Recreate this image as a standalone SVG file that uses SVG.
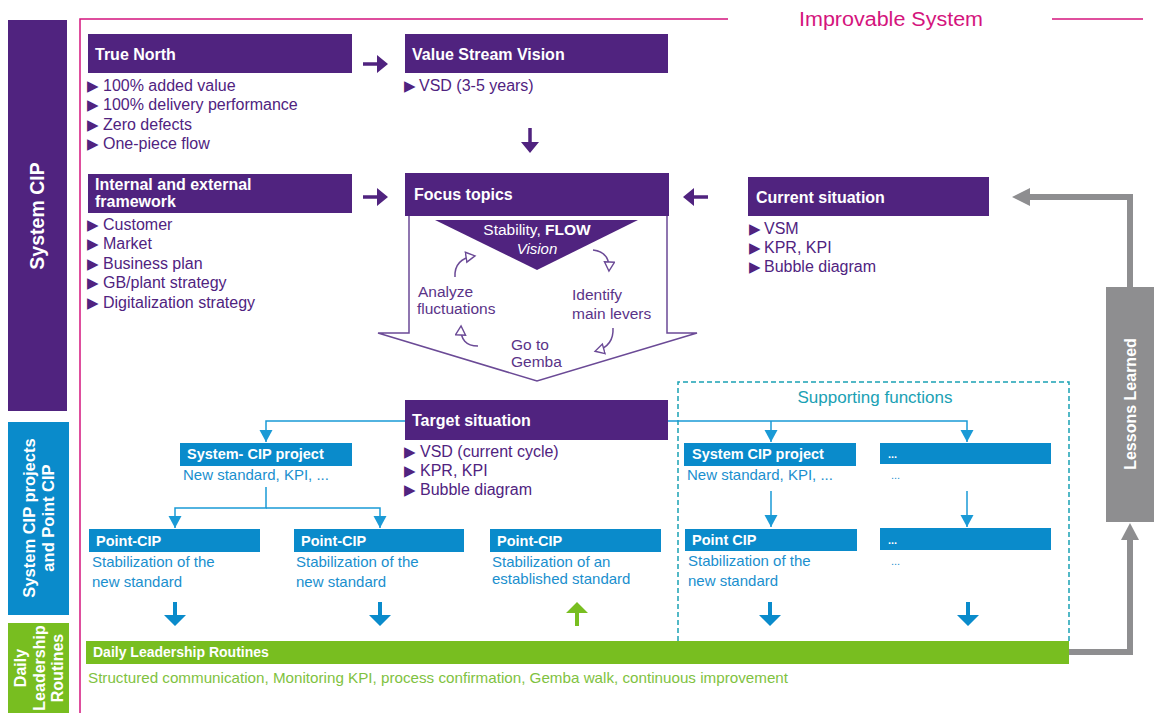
<svg xmlns="http://www.w3.org/2000/svg" xmlns:xlink="http://www.w3.org/1999/xlink" width="1158" height="713" viewBox="0 0 1158 713">
  <style>
    text { font-family: "Liberation Sans", Arial, sans-serif; }
    .pbox { fill: #50237f; }
    .bbox { fill: #0a8bcb; }
    .gbar { fill: #78be20; }
    .ttl { fill: #ffffff; font-weight: bold; font-size: 16px; }
    .ttlS { fill: #ffffff; font-weight: bold; font-size: 14.5px; }
    .ptxt { fill: #50237f; font-size: 16px; }
    .btxt { fill: #1a8fce; font-size: 15px; }
    .cyc { fill: #5a3388; font-size: 15.5px; }
    .bul { font-family: "DejaVu Sans", sans-serif; font-size: 15px; }
    .side { fill: #ffffff; font-weight: bold; text-anchor: middle; }
    .thin { fill: none; stroke: #1a9ad6; stroke-width: 1.5; }
    .cycArr { fill: none; stroke: #6b4a96; stroke-width: 1.5; }
    .gray { fill: none; stroke: #8e8e90; stroke-width: 6; }
  </style>
  <defs>
    <marker id="blueHead" markerWidth="14" markerHeight="14" refX="12" refY="6.5" orient="auto" markerUnits="userSpaceOnUse">
      <path d="M0,0 L12,6.5 L0,13 z" fill="#1a9ad6"/>
    </marker>
    <marker id="openHead" markerWidth="14" markerHeight="14" refX="9" refY="6" orient="auto" markerUnits="userSpaceOnUse">
      <path d="M1,1 L10,6 L1,11 z" fill="#ffffff" stroke="#6b4a96" stroke-width="1.4"/>
    </marker>
    <!-- block arrows, drawn pointing down from the origin -->
    <path id="arrowP" d="M-1.75,0 H1.75 V14 H9 L0,25 L-9,14 H-1.75 Z"/>
    <path id="arrowB" d="M-2,0 H2 V13 H11 L0,24 L-11,13 H-2 Z"/>
  </defs>

  <rect width="1158" height="713" fill="#ffffff"/>

  <!-- side bands -->
  <g id="band-system-cip">
    <rect x="8" y="20" width="59" height="391" class="pbox"/>
    <text class="side" font-size="19.5" transform="translate(44,216) rotate(-90)">System CIP</text>
  </g>
  <g id="band-projects">
    <rect x="8" y="422" width="61" height="193" class="bbox"/>
    <text class="side" font-size="16.5" transform="translate(35,518) rotate(-90)">System CIP projects</text>
    <text class="side" font-size="16.5" transform="translate(54,518) rotate(-90)">and Point CIP</text>
  </g>
  <g id="band-daily">
    <rect x="8" y="623" width="61" height="90" class="gbar"/>
    <text class="side" font-size="16" transform="translate(26,668) rotate(-90)">Daily</text>
    <text class="side" font-size="16" transform="translate(44.5,668) rotate(-90)">Leadership</text>
    <text class="side" font-size="16" transform="translate(63,668) rotate(-90)">Routines</text>
  </g>

  <!-- improvable system frame -->
  <g id="frame">
    <path d="M80,713 V19 H728" fill="none" stroke="#d4147d" stroke-width="1.5"/>
    <path d="M1052,19 H1143" fill="none" stroke="#d4147d" stroke-width="1.5"/>
    <text x="891" y="26" text-anchor="middle" font-size="20" fill="#d4147d" textLength="184" lengthAdjust="spacingAndGlyphs">Improvable System</text>
  </g>

  <!-- supporting functions area -->
  <g id="supporting-functions">
    <path d="M678,641 V382 H1069 V641" fill="none" stroke="#1aa1b4" stroke-width="1.5" stroke-dasharray="5 3"/>
    <text x="875" y="403" text-anchor="middle" font-size="17" fill="#1aa1b4">Supporting functions</text>
  </g>

  <g id="true-north">
    <rect x="88" y="34" width="264" height="39" class="pbox"/>
    <text x="95" y="60" class="ttl">True North</text>
    <text class="ptxt"><tspan x="87" y="91" class="bul">▶</tspan><tspan x="103" y="91">100% added value</tspan></text>
    <text class="ptxt"><tspan x="87" y="110" class="bul">▶</tspan><tspan x="103" y="110">100% delivery performance</tspan></text>
    <text class="ptxt"><tspan x="87" y="130" class="bul">▶</tspan><tspan x="103" y="130">Zero defects</tspan></text>
    <text class="ptxt"><tspan x="87" y="149" class="bul">▶</tspan><tspan x="103" y="149">One-piece flow</tspan></text>
  </g>

  <g id="framework">
    <rect x="88" y="174" width="264" height="39" class="pbox"/>
    <text x="95" y="190" class="ttl">Internal and external</text>
    <text x="95" y="207" class="ttl">framework</text>
    <text class="ptxt"><tspan x="87" y="230" class="bul">▶</tspan><tspan x="103" y="230">Customer</tspan></text>
    <text class="ptxt"><tspan x="87" y="249" class="bul">▶</tspan><tspan x="103" y="249">Market</tspan></text>
    <text class="ptxt"><tspan x="87" y="269" class="bul">▶</tspan><tspan x="103" y="269">Business plan</tspan></text>
    <text class="ptxt"><tspan x="87" y="288" class="bul">▶</tspan><tspan x="103" y="288">GB/plant strategy</tspan></text>
    <text class="ptxt"><tspan x="87" y="308" class="bul">▶</tspan><tspan x="103" y="308">Digitalization strategy</tspan></text>
  </g>

  <g id="value-stream-vision">
    <rect x="405" y="34" width="263" height="39" class="pbox"/>
    <text x="412" y="60" class="ttl">Value Stream Vision</text>
    <text class="ptxt"><tspan x="404" y="91" class="bul">▶</tspan><tspan x="419" y="91">VSD (3-5 years)</tspan></text>
  </g>

  <g id="focus-topics">
    <!-- hollow block arrow around the improvement cycle -->
    <path d="M409,216 V333 H378 L537,381 L697,333 H667 V216" fill="#ffffff" stroke="#6b4a96" stroke-width="1.5"/>
    <rect x="405" y="173" width="264" height="43" class="pbox"/>
    <text x="414" y="200" class="ttl">Focus topics</text>
    <polygon points="435,220 638,220 537,270" class="pbox"/>
    <text x="537" y="235" text-anchor="middle" fill="#ffffff" font-size="15.5">Stability, <tspan font-weight="bold">FLOW</tspan></text>
    <text x="537" y="254" text-anchor="middle" fill="#ffffff" font-size="15" font-style="italic">Vision</text>
    <text x="418" y="297" class="cyc">Analyze</text>
    <text x="417" y="314" class="cyc">fluctuations</text>
    <text x="572" y="300" class="cyc">Identify</text>
    <text x="572" y="319" class="cyc">main levers</text>
    <text x="511" y="350" class="cyc">Go to</text>
    <text x="511" y="367" class="cyc">Gemba</text>
    <path d="M455,277 Q454,259 474,256" class="cycArr" marker-end="url(#openHead)"/>
    <path d="M593,250 Q610,252 609,270" class="cycArr" marker-end="url(#openHead)"/>
    <path d="M613,328 Q614,346 596,351" class="cycArr" marker-end="url(#openHead)"/>
    <path d="M478,346 Q460,346 461,327" class="cycArr" marker-end="url(#openHead)"/>
  </g>

  <g id="current-situation">
    <rect x="748" y="177" width="241" height="39" class="pbox"/>
    <text x="756" y="203" class="ttl">Current situation</text>
    <text class="ptxt"><tspan x="749" y="234" class="bul">▶</tspan><tspan x="764" y="234">VSM</tspan></text>
    <text class="ptxt"><tspan x="749" y="253" class="bul">▶</tspan><tspan x="764" y="253">KPR, KPI</tspan></text>
    <text class="ptxt"><tspan x="749" y="272" class="bul">▶</tspan><tspan x="764" y="272">Bubble diagram</tspan></text>
  </g>

  <g id="target-situation">
    <rect x="405" y="400" width="263" height="40" class="pbox"/>
    <text x="412" y="426" class="ttl">Target situation</text>
    <text class="ptxt"><tspan x="404" y="457" class="bul">▶</tspan><tspan x="420" y="457">VSD (current cycle)</tspan></text>
    <text class="ptxt"><tspan x="404" y="476" class="bul">▶</tspan><tspan x="420" y="476">KPR, KPI</tspan></text>
    <text class="ptxt"><tspan x="404" y="495" class="bul">▶</tspan><tspan x="420" y="495">Bubble diagram</tspan></text>
  </g>

  <g id="system-cip-project">
    <rect x="180" y="443" width="172" height="23" class="bbox"/>
    <text x="187" y="459" class="ttlS">System- CIP project</text>
    <text x="183" y="480" class="btxt">New standard, KPI, ...</text>
  </g>

  <g id="point-cip-1">
    <rect x="89" y="529" width="171" height="23" class="bbox"/>
    <text x="96" y="546" class="ttlS">Point-CIP</text>
    <text x="92" y="567" class="btxt">Stabilization of the</text>
    <text x="92" y="587" class="btxt">new standard</text>
  </g>

  <g id="point-cip-2">
    <rect x="294" y="529" width="170" height="23" class="bbox"/>
    <text x="301" y="546" class="ttlS">Point-CIP</text>
    <text x="296" y="567" class="btxt">Stabilization of the</text>
    <text x="296" y="587" class="btxt">new standard</text>
  </g>

  <g id="point-cip-3">
    <rect x="490" y="529" width="171" height="23" class="bbox"/>
    <text x="497" y="546" class="ttlS">Point-CIP</text>
    <text x="492" y="567" class="btxt">Stabilization of an</text>
    <text x="492" y="584" class="btxt">established standard</text>
  </g>

  <g id="support-system-cip-project">
    <rect x="684" y="443" width="172" height="23" class="bbox"/>
    <text x="692" y="459" class="ttlS">System CIP project</text>
    <text x="687" y="480" class="btxt">New standard, KPI, ...</text>
  </g>

  <g id="support-point-cip">
    <rect x="685" y="529" width="172" height="22" class="bbox"/>
    <text x="692" y="545" class="ttlS">Point CIP</text>
    <text x="688" y="566" class="btxt">Stabilization of the</text>
    <text x="688" y="586" class="btxt">new standard</text>
  </g>

  <g id="support-other-1">
    <rect x="880" y="443" width="171" height="21" class="bbox"/>
    <text x="888" y="458" fill="#ffffff" font-size="11" font-weight="bold">...</text>
    <text x="891" y="479" fill="#1a8fce" font-size="11">...</text>
  </g>

  <g id="support-other-2">
    <rect x="880" y="528" width="171" height="22" class="bbox"/>
    <text x="888" y="544" fill="#ffffff" font-size="11" font-weight="bold">...</text>
    <text x="891" y="565" fill="#1a8fce" font-size="11">...</text>
  </g>

  <g id="daily-leadership-routines">
    <rect x="86" y="641" width="983" height="23" class="gbar"/>
    <text x="93" y="657" fill="#ffffff" font-weight="bold" font-size="14">Daily Leadership Routines</text>
    <text x="88" y="683" fill="#7fc241" font-size="15" textLength="700" lengthAdjust="spacingAndGlyphs">Structured communication, Monitoring KPI, process confirmation, Gemba walk, continuous improvement</text>
  </g>

  <g id="lessons-learned">
    <rect x="1106" y="287" width="48" height="235" fill="#8e8e90"/>
    <text class="side" font-size="16" transform="translate(1136,404) rotate(-90)">Lessons Learned</text>
  </g>

  <g id="connectors">
    <!-- purple flow arrows -->
    <use xlink:href="#arrowP" fill="#50237f" transform="translate(363,64) rotate(-90)"/>
    <use xlink:href="#arrowP" fill="#50237f" transform="translate(363,197) rotate(-90)"/>
    <use xlink:href="#arrowP" fill="#50237f" transform="translate(708,197) rotate(90)"/>
    <use xlink:href="#arrowP" fill="#50237f" transform="translate(530,128)"/>

    <!-- target situation to projects -->
    <path d="M405,421 H266 V442" class="thin" marker-end="url(#blueHead)"/>
    <path d="M266,487 V508 H175 V528" class="thin" marker-end="url(#blueHead)"/>
    <path d="M266,508 H380 V528" class="thin" marker-end="url(#blueHead)"/>
    <path d="M668,421 H967 V442" class="thin" marker-end="url(#blueHead)"/>
    <path d="M771,421 V442" class="thin" marker-end="url(#blueHead)"/>
    <path d="M771,491 V527" class="thin" marker-end="url(#blueHead)"/>
    <path d="M967,491 V527" class="thin" marker-end="url(#blueHead)"/>

    <!-- projects into daily routines -->
    <use xlink:href="#arrowB" fill="#0a8bcb" transform="translate(175,602)"/>
    <use xlink:href="#arrowB" fill="#0a8bcb" transform="translate(380,602)"/>
    <use xlink:href="#arrowB" fill="#0a8bcb" transform="translate(770,602)"/>
    <use xlink:href="#arrowB" fill="#0a8bcb" transform="translate(968,602)"/>
    <use xlink:href="#arrowB" fill="#78be20" transform="translate(577,626) rotate(180)"/>

    <!-- lessons learned loop -->
    <path d="M1069,652 H1130 V538" class="gray"/>
    <polygon points="1130,523 1139,540 1121,540" fill="#8e8e90"/>
    <path d="M1130,287 V197 H1028" class="gray"/>
    <polygon points="1012,197 1030,188 1030,206" fill="#8e8e90"/>
  </g>
</svg>
